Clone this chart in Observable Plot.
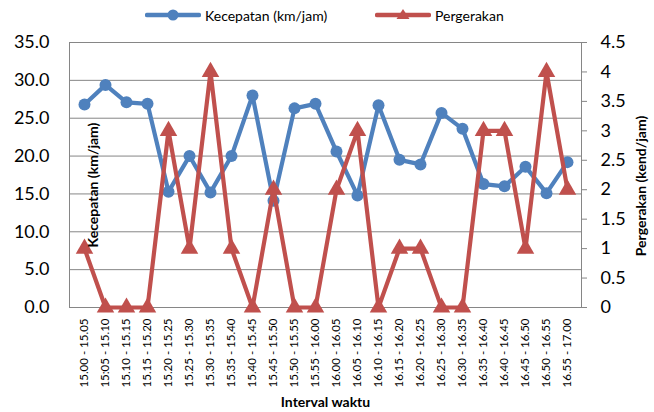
<!DOCTYPE html>
<html>
<head>
<meta charset="utf-8">
<script src="https://cdn.jsdelivr.net/npm/d3@7"></script>
<script src="https://cdn.jsdelivr.net/npm/@observablehq/plot@0.6"></script>
<style>
  body { margin: 0; background: #fff; font-family: Lato, sans-serif; }
  #legend { position: relative; height: 30px; width: 654px; }
  #legend .item { position: absolute; top: 0; height: 30px; display: flex; align-items: center; font-size: 14px; color: #000; }
  #legend svg { margin-right: 4px; }
</style>
</head>
<body>
<div id="legend"></div>
<div id="chart"></div>
<script>
const categories = [
  "15.00 - 15.05","15:05 - 15.10","15.10 - 15.15","15.15 - 15.20","15.20 - 15.25","15.25 - 15.30",
  "15.30 - 15.35","15.35 - 15.40","15.40 - 15.45","15.45 - 15.50","15.50 - 15.55","15.55 - 16.00",
  "16.00 - 16.05","16.05 - 16.10","16.10 - 16.15","16.15 - 16.20","16.20 - 16.25","16.25 - 16.30",
  "16.30 - 16.35","16.35 - 16.40","16.40 - 16.45","16.45 - 16.50","16.50 - 16.55","16.55 - 17.00"
];
const speed = [26.8,29.4,27.1,26.9,15.3,20.0,15.2,20.0,28.0,14.1,26.3,26.9,20.6,14.8,26.7,19.5,18.9,25.7,23.6,16.3,16.0,18.6,15.1,19.2];
const movement = [1,0,0,0,3,1,4,1,0,2,0,0,2,3,0,1,1,0,0,3,3,1,4,2];
const leftTicks = [0,5,10,15,20,25,30,35];
const rightTicks = [0,0.5,1,1.5,2,2.5,3,3.5,4,4.5];
const seriesNames = ["Kecepatan (km/jam)", "Pergerakan"];
const leftTitle = "Kecepatan (km/jam)";
const rightTitle = "Pergerakan (kend/jam)";
const xTitle = "Interval waktu";

const blue = "#4F81BD", red = "#C0504D", grid = "#868686";
const k = 35 / 4.5;
const data = categories.map((c, i) => ({cat: c, speed: speed[i], move: movement[i]}));

// legend
const legend = document.getElementById("legend");
function addItem(left, color, symbol, label) {
  const it = document.createElement("div");
  it.className = "item";
  it.style.left = left + "px";
  const sym = symbol === "circle"
    ? `<circle cx="28" cy="10" r="5.5" fill="${color}"/>`
    : `<path d="M28,4 L34.5,14 L21.5,14 Z" fill="${color}"/>`;
  it.innerHTML = `<svg width="56" height="20"><line x1="2" y1="10" x2="54" y2="10" stroke="${color}" stroke-width="4.5" stroke-linecap="round"/>${sym}</svg><span>${label}</span>`;
  legend.appendChild(it);
}
addItem(145, blue, "circle", seriesNames[0]);
addItem(375, red, "triangle", seriesNames[1]);

const chart = Plot.plot({
  width: 654, height: 382,
  marginLeft: 69, marginRight: 73, marginTop: 12, marginBottom: 105,
  style: {fontFamily: "Lato, sans-serif", color: "#000", background: "transparent"},
  x: {type: "point", domain: categories, padding: 0.5},
  y: {domain: [0, 35]},
  marks: [
    Plot.ruleY(leftTicks, {stroke: grid, strokeWidth: 1}),
    Plot.frame({stroke: grid, strokeWidth: 1}),
    Plot.axisY(leftTicks, {anchor: "left", tickSize: 0, tickPadding: 20, tickFormat: d3.format(".1f"), fontSize: 18, label: null}),
    Plot.axisY(rightTicks.map(v => v * k), {anchor: "right", tickSize: 5, tickPadding: 14, stroke: grid,
      tickFormat: d => String(+(d / k).toFixed(1)), fontSize: 18, label: null}),
    Plot.axisX({tickRotate: -90, tickSize: 0, tickPadding: 11, fontSize: 11.5, label: null}),
    Plot.line(data, {x: "cat", y: "speed", stroke: blue, strokeWidth: 4.2}),
    Plot.dot(data, {x: "cat", y: "speed", r: 6, fill: blue}),
    Plot.line(data, {x: "cat", y: d => d.move * k, stroke: red, strokeWidth: 4.2}),
    Plot.dot(data, {x: "cat", y: d => d.move * k, symbol: "triangle", r: 6.5, fill: red}),
    Plot.text([leftTitle], {text: d => d, frameAnchor: "left", textAnchor: "middle", rotate: -90, dx: 24, dy: 10, fontSize: 14, fontWeight: "bold"}),
    Plot.text([rightTitle], {text: d => d, frameAnchor: "right", textAnchor: "middle", rotate: -90, dx: 60, dy: 11, fontSize: 14, fontWeight: "bold"}),
    Plot.text([xTitle], {text: d => d, frameAnchor: "bottom", dy: 99, fontSize: 14, fontWeight: "bold"})
  ]
});
document.getElementById("chart").appendChild(chart);
</script>
</body>
</html>
